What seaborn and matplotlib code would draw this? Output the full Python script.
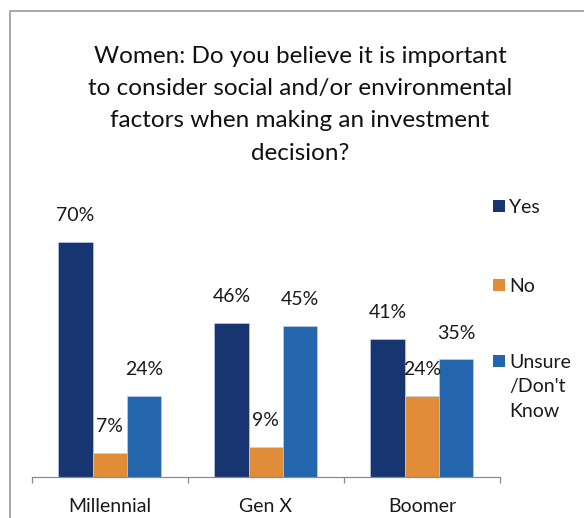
import matplotlib
matplotlib.use("Agg")
import matplotlib.pyplot as plt
from matplotlib.patches import Rectangle
from matplotlib.lines import Line2D
import seaborn as sns
import pandas as pd

# Survey results (percent of respondents)
generations = ["Millennial", "Gen X", "Boomer"]
answers = ["Yes", "No", "Unsure\n/Don't\nKnow"]
yes_values = [70, 46, 41]
no_values = [7, 9, 24]
unsure_values = [24, 45, 35]
value_labels = ["70%", "7%", "24%", "46%", "9%", "45%", "41%", "24%", "35%"]

title = ("Women: Do you believe it is important\n"
         "to consider social and/or environmental\n"
         "factors when making an investment\n"
         "decision?")

colors = ["#173571", "#E08C38", "#2466AD"]

rows = []
for g, y, n, u in zip(generations, yes_values, no_values, unsure_values):
    rows.append({"generation": g, "answer": answers[0], "pct": y})
    rows.append({"generation": g, "answer": answers[1], "pct": n})
    rows.append({"generation": g, "answer": answers[2], "pct": u})
df = pd.DataFrame(rows)

sns.set_theme(style="white")
plt.rcParams["font.family"] = ["Lato", "DejaVu Sans"]

W, H, DPI = 584, 518, 100
fig = plt.figure(figsize=(W / DPI, H / DPI), dpi=DPI)
ax = fig.add_axes([31.7 / W, (H - 476.7) / H, 468.3 / W, 268 / H])

sns.barplot(data=df, x="generation", y="pct", hue="answer",
            order=generations, hue_order=answers, palette=colors,
            width=0.66, gap=0, saturation=1, legend=False, ax=ax,
            edgecolor="#c9d6ea", linewidth=0.4, errorbar=None)

ax.set_ylim(0, 80)
ax.set_xlim(-0.5, 2.5)
ax.set_xlabel("")
ax.set_ylabel("")
ax.set_yticks([])
for side in ["left", "right", "top"]:
    ax.spines[side].set_visible(False)
ax.spines["bottom"].set_color("#8c8c8c")
ax.spines["bottom"].set_linewidth(0.9)
ax.set_xticks([0, 1, 2])
ax.set_xticklabels(generations, fontsize=14, color="#1a1a1a")
ax.set_xticks([-0.5, 0.5, 1.5, 2.5], minor=True)
ax.tick_params(axis="x", which="major", length=0, pad=15.5)
ax.tick_params(axis="x", which="minor", length=4.5, width=0.9,
               color="#8c8c8c", direction="out", bottom=True)

# Value labels above each bar
bars = []
for container in ax.containers:
    bars.extend(container.patches)
bars.sort(key=lambda p: p.get_x())
for bar, text in zip(bars, value_labels):
    ax.annotate(text, (bar.get_x() + bar.get_width() / 2, bar.get_height()),
                xytext=(0, 19), textcoords="offset points",
                ha="center", va="center", fontsize=14, color="#1a1a1a")

# Legend: colour swatch beside the first line of each label
legend_items = [("Yes", colors[0], 206), ("No", colors[1], 285),
                ("Unsure\n/Don't\nKnow", colors[2], 361)]
for label, c, yc in legend_items:
    fig.add_artist(Rectangle((493 / W, (H - yc - 5.5) / H), 11.5 / W, 11.5 / H,
                             transform=fig.transFigure, color=c, lw=0))
    fig.text(509 / W, (H - yc + 7) / H, label, ha="left", va="top",
             fontsize=14, color="#1a1a1a", linespacing=1.52)

fig.text(300 / W, (H - 46) / H, title, ha="center", va="top",
         fontsize=17.5, color="#111111", linespacing=1.66)

# Outer frame (top and left edges)
fig.add_artist(Line2D([10 / W, 10 / W, 1.0], [0.0, (H - 11) / H, (H - 11) / H],
                      transform=fig.transFigure, color="#9a9a9a", lw=1.2))

fig.savefig("out.png", dpi=DPI)
